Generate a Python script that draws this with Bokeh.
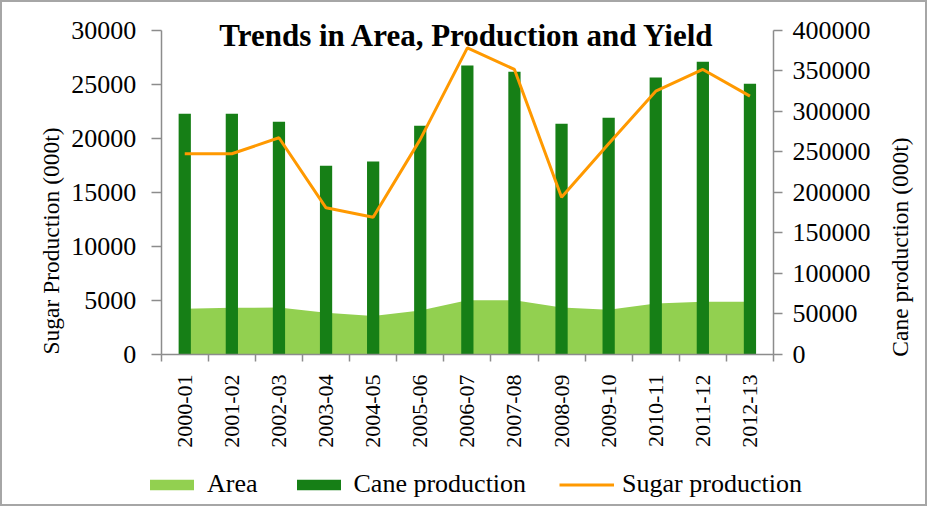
import numpy as np
from bokeh.plotting import figure
from bokeh.models import (Range1d, LinearAxis, FixedTicker, Legend, LegendItem,
                          Label, ColumnDataSource, BasicTickFormatter)
from bokeh.embed import file_html
from bokeh.resources import INLINE

categories = ["2000-01", "2001-02", "2002-03", "2003-04", "2004-05", "2005-06",
              "2006-07", "2007-08", "2008-09", "2009-10", "2010-11", "2011-12", "2012-13"]
area = [4230, 4320, 4350, 3860, 3550, 4070, 5020, 5020, 4350, 4140, 4720, 4870, 4870]
cane = [297000, 297000, 287000, 232700, 238000, 282000, 356500, 348700, 284500,
        292000, 341700, 361000, 333900]
sugar = [18570, 18570, 20050, 13570, 12700, 19900, 28370, 26370, 14550, 19500,
         24360, 26370, 23900]
left_ticks = [0, 5000, 10000, 15000, 20000, 25000, 30000]
right_ticks = [0, 50000, 100000, 150000, 200000, 250000, 300000, 350000, 400000]

FONT = "Liberation Serif"
AX = "#8C8C8C"
W, H = 927, 506
# plotting-area edges inside the canvas (pixels)
FL, FR, FT, FB = 158.7, 771.0, 27.7, 352.0

n = len(categories)
xc = np.arange(n) + 0.5
src = ColumnDataSource(dict(x=xc, cat=categories, area=area, cane=cane, sugar=sugar))

lmax, rmax = left_ticks[-1], right_ticks[-1]
xs = n / (FR - FL)
ys = lmax / (FB - FT)
ys2 = rmax / (FB - FT)
x0 = -FL * xs
ytop = lmax + FT * ys

p = figure(width=W, height=H, output_backend="svg", toolbar_location=None,
           x_range=Range1d(x0, n + (W - FR) * xs),
           y_range=Range1d(-(H - FB) * ys, ytop),
           min_border=0, min_border_left=0, min_border_right=0,
           min_border_top=0, min_border_bottom=0,
           x_axis_type=None, y_axis_type=None)
p.styles = {"border": "2px solid #A6A6A6"}
p.extra_y_ranges = {"cane": Range1d(-(H - FB) * ys2, rmax + FT * ys2)}
p.xgrid.visible = False
p.ygrid.visible = False
p.outline_line_color = None
p.background_fill_color = "white"

r_area = p.varea(x="x", y1=0, y2="area", source=src, fill_color="#92D050")
r_cane = p.vbar(x="x", top="cane", width=0.26, source=src, y_range_name="cane",
                fill_color="#167F16", line_color=None)
r_sugar = p.line(x="x", y="sugar", source=src, line_width=3, line_color="#FF9900")

# x axis
xa = LinearAxis(fixed_location=0, bounds=(0, n),
                ticker=FixedTicker(ticks=list(xc), minor_ticks=list(range(n + 1))))
xa.major_label_overrides = {float(x): c for x, c in zip(xc, categories)}
xa.major_label_orientation = np.pi / 2
xa.major_tick_line_color = None
xa.major_tick_out = 7
xa.major_tick_in = 0
xa.minor_tick_out = 7
xa.minor_tick_in = 0
xa.minor_tick_line_color = AX
xa.minor_tick_line_width = 1.5
xa.axis_line_color = AX
xa.axis_line_width = 1.5
xa.major_label_standoff = 13
xa.major_label_text_font = FONT
xa.major_label_text_font_size = "22px"
xa.major_label_text_color = "black"
p.add_layout(xa, "below")

# left axis
ya = LinearAxis(fixed_location=0, bounds=(0, lmax), ticker=FixedTicker(ticks=left_ticks),
                formatter=BasicTickFormatter(use_scientific=False))
ya.minor_tick_line_color = None
ya.major_tick_out = 10
ya.major_tick_in = 0
ya.major_tick_line_color = AX
ya.major_tick_line_width = 1.5
ya.axis_line_color = AX
ya.axis_line_width = 1.5
ya.major_label_standoff = 15
ya.major_label_text_font = FONT
ya.major_label_text_font_size = "26px"
ya.major_label_text_color = "black"
p.add_layout(ya, "left")

# right axis
ra = LinearAxis(y_range_name="cane", fixed_location=n, bounds=(0, rmax),
                ticker=FixedTicker(ticks=right_ticks),
                formatter=BasicTickFormatter(use_scientific=False))
ra.minor_tick_line_color = None
ra.major_tick_out = 9
ra.major_tick_in = 0
ra.major_tick_line_color = AX
ra.major_tick_line_width = 1.5
ra.axis_line_color = AX
ra.axis_line_width = 1.5
ra.major_label_standoff = 10
ra.major_label_text_font = FONT
ra.major_label_text_font_size = "26px"
ra.major_label_text_color = "black"
p.add_layout(ra, "right")

# axis titles
lab_style = dict(angle=np.pi / 2, text_align="center", text_baseline="middle",
                 text_font=FONT, text_font_size="23.5px", text_color="black")
p.add_layout(Label(x=x0 + 48.7 * xs, y=ytop - 238.5 * ys,
                   text="Sugar Production (000t)", **lab_style))
p.add_layout(Label(x=x0 + 897.0 * xs, y=ytop - 244.5 * ys,
                   text="Cane production (000t)", **lab_style))

# title
title = Label(x=n / 2, y=lmax, y_offset=-5, text="Trends in Area, Production and Yield",
              text_align="center", text_baseline="alphabetic", text_font=FONT,
              text_font_size="31px", text_font_style="bold", text_color="black")
p.add_layout(title)

legend = Legend(items=[LegendItem(label="Area", renderers=[r_area]),
                       LegendItem(label="Cane production", renderers=[r_cane]),
                       LegendItem(label="Sugar production", renderers=[r_sugar])],
                orientation="horizontal", location=(142, 9),
                glyph_width=55, glyph_height=13, label_standoff=8, spacing=33,
                padding=0, margin=0, border_line_color=None, background_fill_alpha=0,
                label_text_font=FONT, label_text_font_size="26px", label_text_color="black")
p.add_layout(legend)

open("out.html", "w").write(file_html(p, INLINE))
